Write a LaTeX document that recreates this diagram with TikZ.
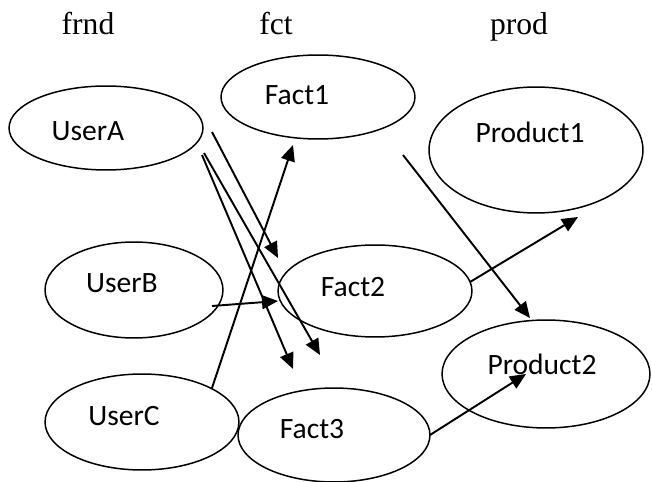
\documentclass[tikz,border=0pt]{standalone}
\usepackage{fontspec}
\setmainfont{Liberation Serif}
\newfontfamily\calfont{Carlito}
\usetikzlibrary{shapes.geometric,arrows.meta}

\tikzset{
  oval/.style={draw, ellipse, line width=0.85pt, inner sep=0pt},
  lbl/.style={font=\calfont\fontsize{16.8}{17}\selectfont, inner sep=0pt},
  hdr/.style={font=\fontsize{18}{18}\selectfont, inner sep=0pt, anchor=base},
  arr/.style={-{Triangle[length=0.32cm,width=0.28cm]}, line width=1.1pt}
}

\begin{document}
\begin{tikzpicture}[x=0.02cm, y=-0.02cm]
\useasboundingbox (0,0) rectangle (652,482);

% column titles
\node[hdr] (hfrnd) at (88,35) {frnd};
\node[hdr] (hfct) at (276,35) {fct};
\node[hdr] (hprod) at (519,35) {prod};

% ovals: name/centre x/centre y/half width/half height/text x/text y/text
\foreach \nm/\cx/\cy/\rx/\ry/\tx/\ty/\txt in {
  userA/106/128/97/42/88/131/UserA,
  fact1/318/97/97/42/297/95/Fact1,
  prod1/536/150/107/63/530/132/Product1,
  userB/134/290/89/48/122/283/UserB,
  fact2/375/291/97/46/353/287/Fact2,
  prod2/546/374/104/54/542/364/Product2,
  userC/142/422/97/48/124/416/UserC,
  fact3/334/435/96/47/312/429/Fact3} {
  \node[oval, minimum width={\rx*0.04cm}, minimum height={\ry*0.04cm}] (\nm) at (\cx,\cy) {};
  \node[lbl] (\nm-txt) at (\tx,\ty) {\txt};
}

% loose ends of the arrows
\coordinate (userA-o1) at (212,132);
\coordinate (userA-o2) at (202,155);
\coordinate (userA-o3) at (204,153);
\coordinate (userB-o) at (212,306);
\coordinate (userC-o) at (212,388);
\coordinate (fact1-o) at (403,155);
\coordinate (fact2-o) at (470,282);
\coordinate (fact3-o) at (430,435);
\coordinate (fact1-i) at (293,145);
\coordinate (fact2-i1) at (278,258);
\coordinate (fact2-i2) at (278,301);
\coordinate (fact3-i1) at (293,369);
\coordinate (fact3-i2) at (320,355);
\coordinate (prod1-i) at (578,217);
\coordinate (prod2-i1) at (530,318);
\coordinate (prod2-i2) at (526,374);

\draw[arr] (userA-o1) -- (fact2-i1);
\draw[arr] (userA-o2) -- (fact3-i1);
\draw[arr] (userA-o3) -- (fact3-i2);
\draw[arr] (userB-o) -- (fact2-i2);
\draw[arr] (userC-o) -- (fact1-i);
\draw[arr] (fact2-o) -- (prod1-i);
\draw[arr] (fact1-o) -- (prod2-i1);
\draw[arr] (fact3-o) -- (prod2-i2);
\end{tikzpicture}
\end{document}
